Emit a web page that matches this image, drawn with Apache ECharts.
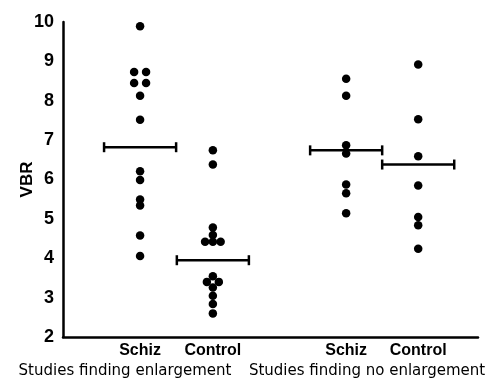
<!DOCTYPE html>
<html>
<head>
<meta charset="utf-8">
<script src="https://cdn.jsdelivr.net/npm/echarts@6/dist/echarts.min.js"></script>
<style>html,body{margin:0;padding:0;background:#fff;}#c{width:487px;height:383px;}</style>
</head>
<body>
<div id="c"></div>
<script>
// Category labels and their x positions on the axis
const categories = ["Schiz", "Control", "Schiz", "Control"];
const categoryPos = [1.07, 2.08, 3.93, 4.93];
const groupLabels = ["Studies finding enlargement", "Studies finding no enlargement"];
const groupPos = [0.86, 4.22];
const yTicks = [2, 3, 4, 5, 6, 7, 8, 9, 10];

// VBR values per column
const schizEnlarged = [9.89, 8.73, 8.73, 8.45, 8.45, 8.13, 7.52, 6.21, 5.99, 5.49, 5.34, 4.58, 4.06];
const controlEnlarged = [6.74, 6.38, 4.78, 4.59, 4.42, 4.42, 4.42, 3.54, 3.40, 3.40, 3.26, 3.05, 2.84, 2.60];
const schizNoEnlarged = [8.56, 8.13, 6.87, 6.66, 5.87, 5.65, 5.14];
const controlNoEnlarged = [8.92, 7.53, 6.59, 5.85, 5.05, 4.84, 4.24];
// group means
const means = [6.82, 3.95, 6.74, 6.38];

// side-by-side jitter of overlapping dots (in dot steps)
const jitterSchizEnlarged = [0, -1, 1, -1, 1, 0, 0, 0, 0, 0, 0, 0, 0];
const jitterControlEnlarged = [0, 0, 0, 0, -1.3, 0, 1.3, 0, -1, 1, 0, 0, 0, 0];
const jitterSchizNo = [0, 0, 0, 0, 0, 0, 0];
const jitterControlNo = [0, 0, 0, 0, 0, 0, 0];

const step = 0.083;
function pts(vals, jit, pos) {
  return vals.map((v, i) => [pos + jit[i] * step, v]);
}
const columns = [
  pts(schizEnlarged, jitterSchizEnlarged, categoryPos[0]),
  pts(controlEnlarged, jitterControlEnlarged, categoryPos[1]),
  pts(schizNoEnlarged, jitterSchizNo, categoryPos[2]),
  pts(controlNoEnlarged, jitterControlNo, categoryPos[3])
];
const meanData = means.map((m, i) => [categoryPos[i], m]);

const chart = echarts.init(document.getElementById('c'), null, {renderer: 'canvas'});
const font = 'Liberation Sans, Arial, Helvetica, sans-serif';
chart.setOption({
  animation: false,
  backgroundColor: '#fff',
  grid: {left: 63, right: 9, top: 22, bottom: 46, containLabel: false, outerBoundsMode: 'none'},
  xAxis: [{
    type: 'value', min: 0, max: 5.76,
    axisLine: {show: true, onZero: false, lineStyle: {color: '#000', width: 2.5}},
    axisTick: {show: false},
    splitLine: {show: false},
    axisLabel: {
      customValues: categoryPos, hideOverlap: false,
      formatter: (v) => categories[categoryPos.indexOf(v)] || '',
      color: '#000', fontFamily: font, fontWeight: 'bold', fontSize: 16, margin: 6
    }
  }, {
    type: 'value', min: 0, max: 5.76, position: 'bottom', offset: 21,
    axisLine: {show: false}, axisTick: {show: false}, splitLine: {show: false},
    axisLabel: {
      customValues: groupPos, hideOverlap: false, showMinLabel: true, showMaxLabel: true,
      formatter: (v) => groupLabels[groupPos.indexOf(v)] || '',
      color: '#000', fontFamily: 'DejaVu Sans, sans-serif', fontSize: 15, fontWeight: 'normal', margin: 6
    }
  }],
  yAxis: {
    type: 'value', min: 2, max: 10, interval: 1,
    name: 'VBR', nameLocation: 'middle', nameRotate: 90, nameGap: 27, nameMoveOverlap: false,
    nameTextStyle: {color: '#000', fontFamily: font, fontWeight: 'bold', fontSize: 17},
    axisLine: {show: true, lineStyle: {color: '#000', width: 2.5}},
    axisTick: {show: false},
    splitLine: {show: false},
    axisLabel: {color: '#000', fontFamily: font, fontWeight: 'bold', fontSize: 18, margin: 9,
      formatter: (v) => yTicks.includes(v) ? String(v) : ''}
  },
  series: columns.map((d) => ({
    type: 'scatter', data: d, symbol: 'circle', symbolSize: 8.5,
    itemStyle: {color: '#000', opacity: 1}, silent: true
  })).concat([{
    type: 'custom', data: meanData, silent: true,
    renderItem: function (params, api) {
      const x = api.value(0), y = api.value(1);
      const l = api.coord([x - 0.5, y]);
      const r = api.coord([x + 0.5, y]);
      const st = {stroke: '#000', lineWidth: 2.5};
      return {type: 'group', children: [
        {type: 'line', shape: {x1: l[0], y1: l[1], x2: r[0], y2: r[1]}, style: st},
        {type: 'line', shape: {x1: l[0], y1: l[1] - 5, x2: l[0], y2: l[1] + 5}, style: st},
        {type: 'line', shape: {x1: r[0], y1: r[1] - 5, x2: r[0], y2: r[1] + 5}, style: st}
      ]};
    }
  }])
});
</script>
</body>
</html>
